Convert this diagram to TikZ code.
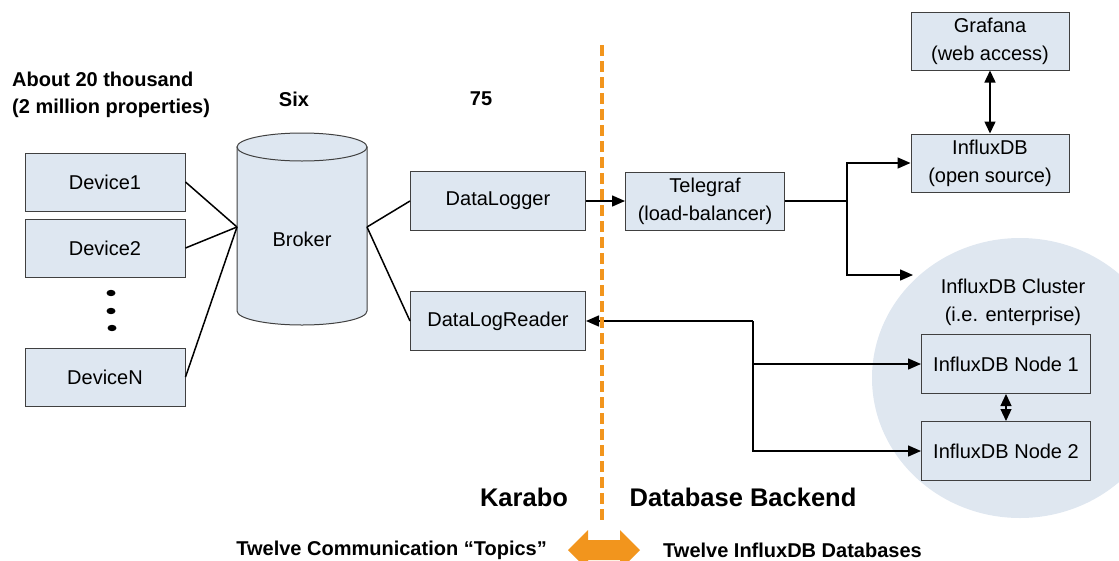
\documentclass[tikz,border=0pt]{standalone}
\usepackage{fontspec}
\setmainfont{Liberation Sans}
\usetikzlibrary{arrows.meta}

\definecolor{boxfill}{RGB}{222,231,241}
\definecolor{boxline}{RGB}{64,64,64}
\definecolor{clusterfill}{RGB}{223,231,240}
\definecolor{splitorange}{RGB}{242,149,29}

\begin{document}
\begin{tikzpicture}[x=1pt,y=-1pt,
  main_box/.style={draw=boxline,fill=boxfill,line width=1pt,inner sep=0pt,align=center,
    font=\fontsize{20}{28}\selectfont},
  bold_text/.style={font=\fontsize{20}{27}\selectfont\bfseries,inner sep=0pt},
  big_text/.style={font=\fontsize{25.5}{30}\selectfont\bfseries,inner sep=0pt},
  wire/.style={line width=1.5pt},
  to_arrow/.style={wire,-{Triangle[length=13pt,width=11pt]}},
  both_arrow/.style={wire,{Triangle[length=12pt,width=11pt]}-{Triangle[length=12pt,width=11pt]}}]

    \useasboundingbox (0,0) rectangle (1119,560);

    % cluster background
    \fill[clusterfill] (1020,378) ellipse [x radius=148, y radius=140];

    % broker cylinder
    \filldraw[fill=boxfill,draw=boxline,line width=1pt] (237,147) -- (237,311)
      arc [start angle=180, end angle=0, x radius=65, y radius=14] -- (367,147) -- cycle;
    \filldraw[fill=boxfill,draw=boxline,line width=1pt] (302,147) ellipse [x radius=65, y radius=14];
    \node[font=\fontsize{20}{28}\selectfont] (broker) at (302,239) {Broker};
    \coordinate (broker_in) at (237,227);
    \coordinate (broker_out) at (367,227);

    \node[main_box,minimum width=160,minimum height=58] (dev1) at (105,182) {Device1};
    \node[main_box,minimum width=160,minimum height=58] (dev2) at (105,248) {Device2};
    \node[main_box,minimum width=160,minimum height=58] (devN) at (105,377) {DeviceN};
    \fill (111,293) ellipse [x radius=4.5, y radius=3.2];
    \fill (111,311) ellipse [x radius=4.5, y radius=3.2];
    \fill (112,328) ellipse [x radius=4.5, y radius=3.2];

    \node[main_box,minimum width=175,minimum height=59] (logger) at (498,201) {DataLogger};
    \node[main_box,minimum width=175,minimum height=59] (reader) at (498,321) {DataLogReader};
    \node[main_box,minimum width=159,minimum height=58] (telegraf) at (705,201) {Telegraf\\(load-balancer)};
    \node[main_box,minimum width=158,minimum height=58] (grafana) at (990,41) {Grafana\\(web access)};
    \node[main_box,minimum width=158,minimum height=58] (influx) at (990,163) {InfluxDB\\(open source)};
    \node[main_box,minimum width=169,minimum height=59] (node1) at (1006,364) {InfluxDB Node 1};
    \node[main_box,minimum width=169,minimum height=59] (node2) at (1006,451) {InfluxDB Node 2};
    \node[font=\fontsize{20}{28}\selectfont,align=center] (cluster) at (1013,302) {InfluxDB Cluster\\(i.e. enterprise)};

    \coordinate (split) at (847,201);
    \coordinate (cluster_in) at (913,275);
    \coordinate (fork) at (753,321);

    \path[wire]
      (dev1.east) edge (broker_in)
      (dev2.east) edge (broker_in)
      (devN.east) edge (broker_in)
      (broker_out) edge (logger.west)
      (broker_out) edge (reader.west)
      (telegraf.east) edge (split);
    \draw[to_arrow] (logger) -- (telegraf);
    \draw[to_arrow] (split) |- (influx.west);
    \draw[to_arrow] (split) |- (cluster_in);
    \draw[both_arrow] (grafana) -- (influx);
    \draw[to_arrow] (fork) -- (reader.east);
    \draw[to_arrow] (fork) |- (node1.west);
    \draw[to_arrow] (fork) |- (node2.west);
    \draw[both_arrow,line width=1.2pt] (node1) -- (node2);

    % Karabo / backend split
    \draw[splitorange,line width=4pt,dash pattern=on 11pt off 5pt] (602,45) -- (602,525);
    \fill[splitorange] (568,550) -- (588,530) -- (588,540) -- (620,540) -- (620,530) -- (640,550)
      -- (620,570) -- (620,560) -- (588,560) -- (588,570) -- cycle;

    \node[bold_text,anchor=west,align=left] (devcount) at (12,95) {About 20 thousand\\(2 million properties)};
    \node[bold_text] (six) at (294,99) {Six};
    \node[bold_text] (seventyfive) at (481,99) {75};
    \node[big_text] (karabo) at (524,497) {Karabo};
    \node[big_text] (backend) at (743,497) {Database Backend};
    \node[bold_text,anchor=east] (topics) at (547,550) {Twelve Communication “Topics”};
    \node[bold_text,anchor=west] (databases) at (663,550) {Twelve InfluxDB Databases};

\end{tikzpicture}
\end{document}
